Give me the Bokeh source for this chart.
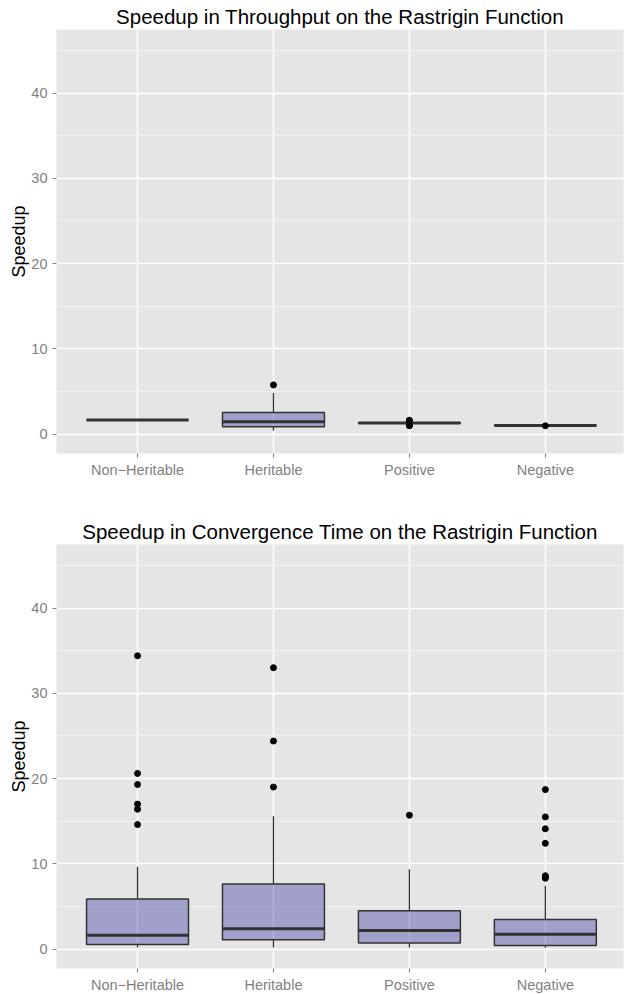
from bokeh.plotting import figure
from bokeh.layouts import column
from bokeh.models import Range1d, FixedTicker, ColumnDataSource
from bokeh.embed import file_html
from bokeh.resources import INLINE

categories = ["Non\u2212Heritable", "Heritable", "Positive", "Negative"]

# Throughput speedup (top panel)
thr_q1 = [1.65, 0.86, 1.27, 1.00]
thr_median = [1.65, 1.45, 1.30, 1.01]
thr_q3 = [1.65, 2.54, 1.33, 1.02]
thr_lower = [1.65, 0.39, 1.24, 0.99]
thr_upper = [1.65, 4.82, 1.37, 1.03]
thr_outliers = [[], [5.76], [1.62, 1.55, 1.02, 0.98], [0.97]]

# Convergence time speedup (bottom panel)
conv_q1 = [0.54, 1.09, 0.70, 0.43]
conv_median = [1.63, 2.37, 2.18, 1.75]
conv_q3 = [5.88, 7.63, 4.48, 3.46]
conv_lower = [0.18, 0.18, 0.18, 0.15]
conv_upper = [9.66, 15.58, 9.35, 7.44]
conv_outliers = [[34.4, 20.6, 19.3, 17.0, 16.4, 14.6],
                 [33.0, 24.4, 19.0],
                 [15.7],
                 [18.7, 15.5, 14.1, 12.4, 8.6, 8.45, 8.3]]

y_major = [0, 10, 20, 30, 40]
y_minor = [5, 15, 25, 35, 45]
titles = ["Speedup in Throughput on the Rastrigin Function",
          "Speedup in Convergence Time on the Rastrigin Function"]
y_label = "Speedup"

FONT = "Liberation Sans"
BOX_W = 0.75


def make_panel(title, q1, med, q3, lo, hi, outs, top_border, bottom_border):
    xs = list(range(1, len(categories) + 1))
    p = figure(frame_width=567, frame_height=424,
               x_range=Range1d(0.404, 4.575), y_range=Range1d(-2.28, 47.45),
               output_backend="svg", toolbar_location=None,
               min_border_left=56, min_border_right=1,
               min_border_top=top_border, min_border_bottom=bottom_border)
    p.title.text = title
    p.title.align = "center"
    p.title.text_font = FONT
    p.title.text_font_size = "20.5px"
    p.title.text_font_style = "normal"
    p.title.text_color = "black"
    p.title.standoff = 3
    p.title.offset = 4.5
    p.background_fill_color = "#E5E5E5"
    p.border_fill_color = "white"
    p.outline_line_color = None

    # grids
    p.xgrid.ticker = FixedTicker(ticks=xs)
    p.xgrid.grid_line_color = "white"
    p.xgrid.grid_line_width = 1.5
    p.ygrid.ticker = FixedTicker(ticks=y_major, minor_ticks=y_minor)
    p.ygrid.grid_line_color = "white"
    p.ygrid.grid_line_width = 1.5
    p.ygrid.minor_grid_line_color = "#F2F2F2"
    p.ygrid.minor_grid_line_width = 1

    # axes
    p.xaxis.ticker = FixedTicker(ticks=xs)
    p.xaxis.major_label_overrides = {x: c for x, c in zip(xs, categories)}
    p.yaxis.ticker = FixedTicker(ticks=y_major)
    for ax in (p.xaxis[0], p.yaxis[0]):
        ax.axis_line_color = None
        ax.major_tick_line_color = "#7F7F7F"
        ax.major_tick_line_width = 1
        ax.major_tick_out = 4
        ax.major_tick_in = 0
        ax.minor_tick_line_color = None
        ax.major_label_text_font = FONT
        ax.major_label_text_font_size = "14.5px"
        ax.major_label_text_color = "#7F7F7F"
    p.xaxis.major_label_standoff = 4
    p.yaxis.major_label_standoff = 5
    p.yaxis.axis_label = y_label
    p.yaxis.axis_label_text_font = FONT
    p.yaxis.axis_label_text_font_size = "18px"
    p.yaxis.axis_label_text_font_style = "normal"
    p.yaxis.axis_label_text_color = "black"
    p.yaxis.axis_label_standoff = -1

    src = ColumnDataSource(dict(x=xs, q1=q1, med=med, q3=q3, lo=lo, hi=hi,
                                xl=[x - BOX_W / 2 for x in xs],
                                xr=[x + BOX_W / 2 for x in xs]))
    # whiskers
    p.segment(x0="x", y0="q3", x1="x", y1="hi", source=src,
              line_color="#333333", line_width=1.3)
    p.segment(x0="x", y0="q1", x1="x", y1="lo", source=src,
              line_color="#333333", line_width=1.3)
    # boxes
    p.vbar(x="x", width=BOX_W, top="q3", bottom="q1", source=src,
           fill_color="#00008B", fill_alpha=0.3,
           line_color="#333333", line_width=1.5)
    # medians
    p.segment(x0="xl", y0="med", x1="xr", y1="med", source=src,
              line_color="#333333", line_width=3)
    # outliers
    ox, oy = [], []
    for x, vals in zip(xs, outs):
        for v in vals:
            ox.append(x)
            oy.append(v)
    p.scatter(ox, oy, size=6, color="black")
    return p


p1 = make_panel(titles[0], thr_q1, thr_median, thr_q3, thr_lower, thr_upper,
                thr_outliers, 29, 47)
p2 = make_panel(titles[1], conv_q1, conv_median, conv_q3, conv_lower, conv_upper,
                conv_outliers, 44, 26)

layout = column(p1, p2, spacing=0)
open("out.html", "w").write(file_html(layout, INLINE))
